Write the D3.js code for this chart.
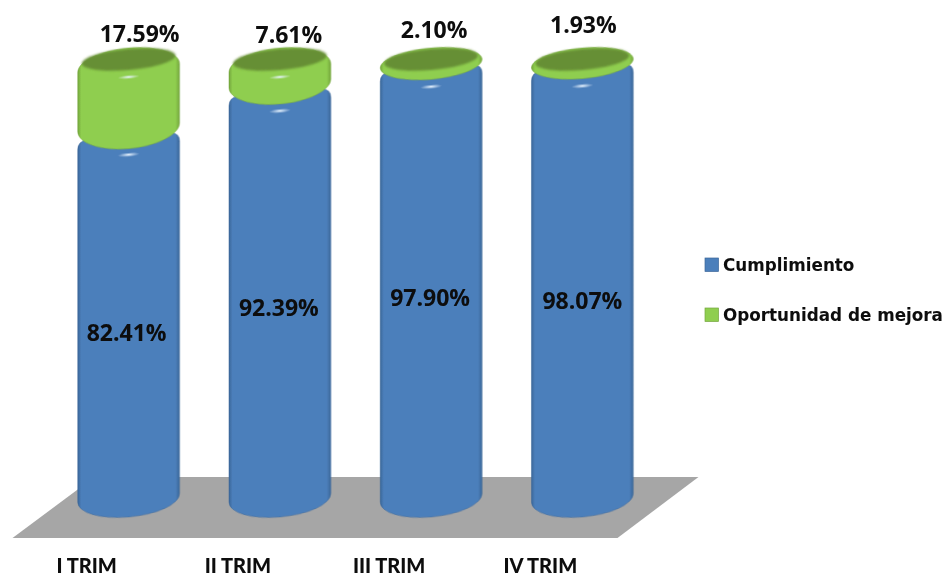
<!DOCTYPE html>
<html>
<head>
<meta charset="utf-8">
<script src="https://cdn.jsdelivr.net/npm/d3@7"></script>
<style>
  html, body { margin: 0; padding: 0; background: #fff; }
  svg { display: block; }
</style>
</head>
<body>
<svg id="chart" width="945" height="577"></svg>
<script>
const categories = ['I TRIM', 'II TRIM', 'III TRIM', 'IV TRIM'];
const cumplimiento = [82.41, 92.39, 97.90, 98.07];
const oportunidad = [17.59, 7.61, 2.10, 1.93];
const seriesNames = ['Cumplimiento', 'Oportunidad de mejora'];

const style = {
  blue: '#4c7fbb',
  blueDark: '#3a6799',
  green: '#8fce4f',
  greenDark: '#74a63c',
  greenTop: '#668f34',
  floor: '#a6a6a6',
  text: '#0a0a0a',
  labelFont: '"Open Sans", sans-serif',
  axisFont: 'Lato, sans-serif',
  legendFont: '"DejaVu Sans", sans-serif'
};

// hand nudges for the data labels, office chart placed them unevenly
const blueNudge = [[-2, 16], [-1, 13], [-1, 15], [0, 18]];
const greenLabelX = [11, 9, 3, 1];
const greenLabelY = [34, 35, 30, 25];

const svg = d3.select('#chart');
const defs = svg.append('defs');

const soft = defs.append('filter').attr('id', 'soft');
soft.append('feGaussianBlur').attr('stdDeviation', 0.45);
const softer = defs.append('filter').attr('id', 'softer')
  .attr('x', '-10%').attr('y', '-30%').attr('width', '120%').attr('height', '160%');
softer.append('feGaussianBlur').attr('stdDeviation', 0.9);

function sideGradient(id, edge, mid) {
  const g = defs.append('linearGradient').attr('id', id);
  [[0, edge], [0.035, mid], [0.96, mid], [1, edge]].forEach(s => {
    g.append('stop').attr('offset', s[0]).attr('stop-color', s[1]);
  });
}
sideGradient('blueSide', style.blueDark, style.blue);
sideGradient('greenSide', style.greenDark, style.green);

const shine = defs.append('radialGradient').attr('id', 'shine');
shine.append('stop').attr('offset', 0).attr('stop-color', '#e8f4ff');
shine.append('stop').attr('offset', 1).attr('stop-color', '#e8f4ff').attr('stop-opacity', 0);

const xScale = d3.scaleBand()
  .domain(categories)
  .range([52.5, 658.5])
  .paddingInner(0.327)
  .paddingOuter(0.167);

const yScale = d3.scaleLinear().domain([0, 100]).range([498, 59]);
const ryScale = d3.scaleLinear().domain([100, 0]).range([11, 19]);

const rx = xScale.bandwidth() / 2;
const tilt = 4.3;
const skew = -Math.atan(tilt / rx) * 180 / Math.PI;
const kappa = 0.55;

// the piece between two values: rounded lens when thin, cylinder when tall
function greenPiece(cx, v0, v1) {
  const y0 = yScale(v0), y1 = yScale(v1);
  const e = Math.min(9, (y0 - y1) / 2);
  const l = cx - rx, r = cx + rx;
  const rt = ryScale(v1) + e, rb = ryScale(v0) + e;
  const top = y1 + e, bot = y0 - e;
  return `M${l},${top}`
    + `C${l},${top - kappa * rt} ${cx - kappa * rx},${top - rt} ${cx},${top - rt}`
    + `C${cx + kappa * rx},${top - rt} ${r},${top - kappa * rt} ${r},${top}`
    + `L${r},${bot}`
    + `C${r},${bot + kappa * rb} ${cx + kappa * rx},${bot + rb} ${cx},${bot + rb}`
    + `C${cx - kappa * rx},${bot + rb} ${l},${bot + kappa * rb} ${l},${bot}Z`;
}

// blue body, its top has round shoulders that show under the green piece
function blueBody(cx, v) {
  const y0 = yScale(0), y1 = yScale(v);
  const l = cx - rx, r = cx + rx;
  return `M${l},${y1 + 9}`
    + `Q${l},${y1 + 1} ${l + 9},${y1}`
    + `L${r - 9},${y1}`
    + `Q${r},${y1 + 1} ${r},${y1 + 9}`
    + `L${r},${y0}`
    + `A${rx},${ryScale(0)} 0 0 1 ${l},${y0}Z`;
}

const main = svg.append('g').attr('filter', 'url(#soft)');

// floor
const floorLeft = xScale.range()[0], floorRight = xScale.range()[1];
const floorTop = yScale(0) - 21, floorBottom = yScale(0) + 40;
main.append('polygon')
  .attr('points', [
    [floorLeft - 40, floorBottom],
    [floorLeft + 42, floorTop],
    [floorRight + 40, floorTop],
    [floorRight - 41, floorBottom]
  ].map(p => p.join(',')).join(' '))
  .attr('fill', style.floor);

const rows = categories.map((c, i) => ({
  cat: c,
  i,
  cx: xScale(c) + rx,
  blue: cumplimiento[i],
  green: oportunidad[i]
}));

// skewing keeps the sides upright while the ellipses lean up to the right
const bars = main.selectAll('g.bar').data(rows).enter().append('g')
  .attr('class', 'bar')
  .attr('transform', d => `translate(${d.cx},0) skewY(${skew}) translate(${-d.cx},0)`);

bars.append('path')
  .attr('d', d => blueBody(d.cx, d.blue))
  .attr('fill', 'url(#blueSide)')
  .attr('stroke', style.blueDark)
  .attr('stroke-width', 0.5);

bars.append('ellipse')
  .attr('cx', d => d.cx)
  .attr('cy', d => yScale(d.blue) + 18.5)
  .attr('rx', 11)
  .attr('ry', 2.2)
  .attr('fill', 'url(#shine)');

bars.append('path')
  .attr('d', d => greenPiece(d.cx, d.blue, d.blue + d.green))
  .attr('fill', 'url(#greenSide)')
  .attr('stroke', style.greenDark)
  .attr('stroke-width', 0.5);

// shine on the green piece, only when it is tall enough to hold one
bars.filter(d => yScale(d.blue) - yScale(d.blue + d.green) > 25)
  .append('ellipse')
  .attr('cx', d => d.cx)
  .attr('cy', d => yScale(d.blue + d.green) + 18)
  .attr('rx', 11)
  .attr('ry', 2)
  .attr('fill', 'url(#shine)');

// dark top surface
bars.append('ellipse')
  .attr('cx', d => d.cx)
  .attr('cy', d => yScale(d.blue + d.green) + 0.5)
  .attr('rx', rx - 4)
  .attr('ry', d => ryScale(d.blue + d.green) - 0.5)
  .attr('fill', style.greenTop)
  .attr('filter', 'url(#softer)');

const labels = svg.append('g').attr('filter', 'url(#soft)');

labels.selectAll('text.blue').data(rows).enter().append('text')
  .attr('class', 'blue')
  .attr('x', d => d.cx + blueNudge[d.i][0])
  .attr('y', d => (yScale(d.blue) + yScale(0)) / 2 + blueNudge[d.i][1])
  .attr('dy', '0.35em')
  .attr('text-anchor', 'middle')
  .attr('font-family', style.labelFont)
  .attr('font-weight', 700)
  .attr('font-size', 23)
  .attr('fill', style.text)
  .text(d => d.blue.toFixed(2) + '%');

labels.selectAll('text.green').data(rows).enter().append('text')
  .attr('class', 'green')
  .attr('x', d => d.cx + greenLabelX[d.i])
  .attr('y', d => greenLabelY[d.i])
  .attr('dy', '0.35em')
  .attr('text-anchor', 'middle')
  .attr('font-family', style.labelFont)
  .attr('font-weight', 700)
  .attr('font-size', 23)
  .attr('fill', style.text)
  .text(d => d.green.toFixed(2) + '%');

// category axis, labels sit left of the bars like the original
const xAxis = d3.axisBottom(xScale).tickSize(0).tickPadding(0);
const xAxisSel = labels.append('g')
  .attr('transform', 'translate(-42, 558.3)')
  .call(xAxis);
xAxisSel.select('.domain').remove();
xAxisSel.selectAll('.tick text')
  .attr('font-family', style.axisFont)
  .attr('font-weight', 900)
  .attr('font-size', 20)
  .attr('fill', style.text);

// legend
const legend = labels.selectAll('g.legend').data(seriesNames).enter().append('g')
  .attr('class', 'legend')
  .attr('transform', (d, i) => `translate(705, ${258 + i * 50})`);
legend.append('rect')
  .attr('width', 13.5)
  .attr('height', 13.5)
  .attr('fill', (d, i) => i === 0 ? style.blue : style.green)
  .attr('stroke', (d, i) => i === 0 ? style.blueDark : style.greenDark)
  .attr('stroke-width', 0.7);
legend.append('text')
  .attr('x', 18)
  .attr('y', 7)
  .attr('dy', '0.35em')
  .attr('font-family', style.legendFont)
  .attr('font-weight', 700)
  .attr('font-size', 16.8)
  .attr('fill', style.text)
  .text(d => d);
</script>
</body>
</html>
